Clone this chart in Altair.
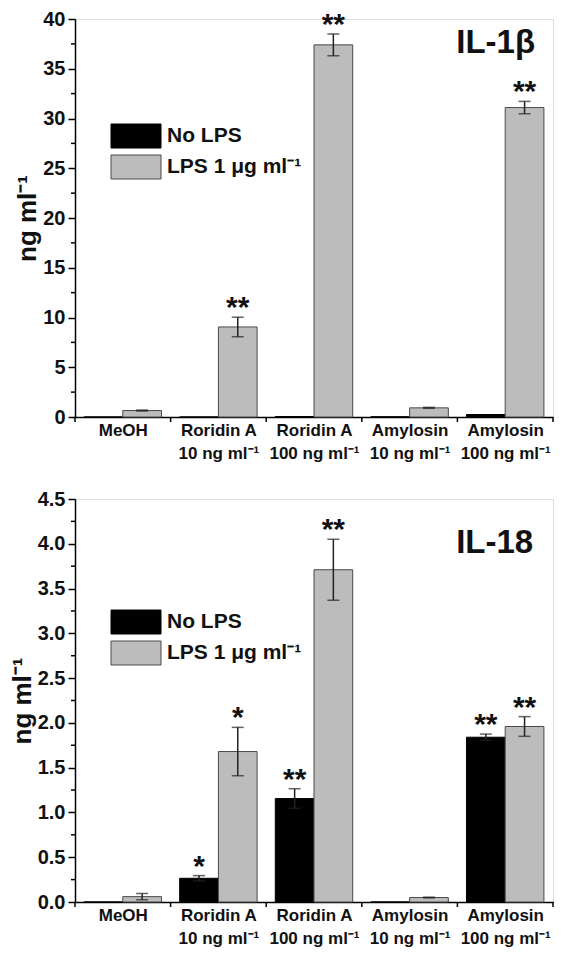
import altair as alt
import pandas as pd

# ---------------- data ----------------
categories = ["MeOH", "Roridin A\n10 ng ml⁻¹", "Roridin A\n100 ng ml⁻¹",
              "Amylosin\n10 ng ml⁻¹", "Amylosin\n100 ng ml⁻¹"]
series = ["No LPS", "LPS 1 μg ml⁻¹"]

il1b_nolps = [0.0, 0.0, 0.05, 0.02, 0.25]
il1b_nolps_err = [0.0, 0.0, 0.0, 0.0, 0.0]
il1b_lps = [0.65, 9.05, 37.4, 0.92, 31.1]
il1b_lps_err = [0.05, 0.98, 1.1, 0.05, 0.62]
il1b_nolps_sig = ["", "", "", "", ""]
il1b_lps_sig = ["", "**", "**", "", "**"]

il18_nolps = [0.0, 0.265, 1.155, 0.0, 1.84]
il18_nolps_err = [0.0, 0.03, 0.11, 0.0, 0.035]
il18_lps = [0.06, 1.68, 3.71, 0.05, 1.96]
il18_lps_err = [0.035, 0.27, 0.34, 0.004, 0.11]
il18_nolps_sig = ["", "*", "**", "", "**"]
il18_lps_sig = ["", "*", "**", "", "**"]

il1b_ticks = [0, 5, 10, 15, 20, 25, 30, 35, 40]
il1b_minor = [2.5, 7.5, 12.5, 17.5, 22.5, 27.5, 32.5, 37.5]
il18_ticks = [0.0, 0.5, 1.0, 1.5, 2.0, 2.5, 3.0, 3.5, 4.0, 4.5]
il18_minor = [0.25, 0.75, 1.25, 1.75, 2.25, 2.75, 3.25, 3.75, 4.25]
group_bounds = [0, 1, 2, 3, 4, 5]

# ---------------- style ----------------
FONT = "Liberation Sans"
BAR_W = 0.405          # bar width as fraction of a group
PANEL_W = 478
BLACK = "#000000"
GRAY = "#bcbcbc"
EDGE = "#4a4a4a"
# legend box 50 x 24 px drawn with symbolSize 625 (unit = 12.5 px)
legend_path = "M-2,-0.96H2V0.96H-2Z"


def build_frame(nolps, nolps_err, nolps_sig, lps, lps_err, lps_sig):
    rows = []
    for i, cat in enumerate(categories):
        for s, vals, errs, sigs, side in [
            (series[0], nolps, nolps_err, nolps_sig, -1),
            (series[1], lps, lps_err, lps_sig, 1),
        ]:
            c = i + 0.5
            x0 = c if side > 0 else c - BAR_W
            x1 = c + BAR_W if side > 0 else c
            rows.append(dict(cat=cat, series=s, x0=x0, x1=x1, xc=(x0 + x1) / 2,
                             value=vals[i], zero=0.0, err=errs[i],
                             lo=vals[i] - errs[i], hi=vals[i] + errs[i],
                             sig=sigs[i]))
    return pd.DataFrame(rows)


label_js = "[" + ",".join("'" + c.replace("\n", "|") + "'" for c in categories) + "]"


def panel(df, ymax, ticks, minor, fmt, title_text, title_x, title_y, legend_y, height):
    xs = alt.Scale(domain=[0, 5], nice=False, zero=False)
    ys = alt.Scale(domain=[0, ymax], nice=False, zero=True)

    x_axis = alt.Axis(
        values=[0.5, 1.5, 2.5, 3.5, 4.5],
        labelExpr=f"split({label_js}[floor(datum.value)], '|')",
        labelAlign="center", ticks=False, labelPadding=5, labelFont=FONT,
        labelFontSize=17, labelFontWeight="bold", labelColor="#111",
        labelLineHeight=23, labelOverlap=False, labelFlush=False, title=None,
        grid=False, domainColor="black", domainWidth=1.5,
    )
    y_axis = alt.Axis(
        values=ticks, format=fmt, title="ng ml⁻¹", tickSize=7, tickWidth=1.5,
        tickColor="black", labelPadding=3, labelFont=FONT, labelFontSize=20,
        labelFontWeight="bold", labelColor="#111", titleFont=FONT,
        titleFontSize=26, titleFontWeight="bold", titleColor="#111",
        titlePadding=2, grid=False, domainColor="black", domainWidth=1.5,
    )

    def X(field):
        return alt.X(field, scale=xs, axis=x_axis, title=None)

    def Y(field):
        return alt.Y(field, scale=ys, axis=y_axis, title="ng ml⁻¹")

    bars = alt.Chart(df).mark_rect(strokeWidth=1).encode(
        x=X("x0:Q"),
        x2="x1:Q",
        y=Y("value:Q"),
        y2="zero:Q",
        color=alt.Color("series:N", scale=alt.Scale(domain=series, range=[BLACK, GRAY]),
                        legend=alt.Legend(
                            orient="none", legendX=48, legendY=legend_y, title=None,
                            symbolType=legend_path, symbolSize=625,
                            symbolStrokeColor=EDGE, symbolStrokeWidth=1,
                            symbolOpacity=1,
                            labelFont=FONT, labelFontSize=21, labelFontWeight="bold",
                            labelColor="#111", labelOffset=18, rowPadding=3, padding=0)),
        stroke=alt.Stroke("series:N", scale=alt.Scale(domain=series, range=[BLACK, EDGE]),
                          legend=None),
    )

    err_df = df[df["err"] > 0]
    rules = alt.Chart(err_df).mark_rule(color="#222", strokeWidth=1.5).encode(
        x=X("xc:Q"),
        y=Y("lo:Q"),
        y2="hi:Q",
    )
    caps = alt.Chart(err_df).transform_fold(["lo", "hi"], as_=["end", "yv"]).mark_tick(
        orient="horizontal", size=12, thickness=1.5, color="#222").encode(
        x=X("xc:Q"),
        y=Y("yv:Q"),
    )
    stars = alt.Chart(df[df["sig"] != ""]).mark_text(
        font=FONT, fontSize=30, fontWeight="bold", color="#111", align="center",
        baseline="alphabetic", dy=0).encode(
        x=X("xc:Q"),
        y=Y("hi:Q"),
        text="sig:N",
    )
    minor_ticks = alt.Chart(pd.DataFrame({"m": minor})).mark_rule(
        color="black", strokeWidth=1.5).encode(
        y=Y("m:Q"),
        x=alt.value(0), x2=alt.value(-4),
    )
    group_ticks = alt.Chart(pd.DataFrame({"b": group_bounds})).mark_rule(
        color="black", strokeWidth=1.5).encode(
        x=X("b:Q"),
        y=alt.value(height), y2=alt.value(height + 5),
    )
    title = alt.Chart(pd.DataFrame({"t": [title_text], "tx": [title_x], "ty": [title_y]})).mark_text(
        font=FONT, fontSize=33, fontWeight="bold", color="#111", align="center",
        baseline="alphabetic").encode(
        x=X("tx:Q"),
        y=Y("ty:Q"),
        text="t:N",
    )
    return alt.layer(bars, rules, caps, stars, minor_ticks, group_ticks, title).properties(
        width=PANEL_W, height=height)


df1 = build_frame(il1b_nolps, il1b_nolps_err, il1b_nolps_sig, il1b_lps, il1b_lps_err, il1b_lps_sig)
df2 = build_frame(il18_nolps, il18_nolps_err, il18_nolps_sig, il18_lps, il18_lps_err, il18_lps_sig)

top = panel(df1, 40, il1b_ticks, il1b_minor, "d", "IL-1β", 4.40, 36.6, 104, 398)
bottom = panel(df2, 4.5, il18_ticks, il18_minor, ".1f", "IL-18", 4.39, 3.9, 110, 403)

chart = alt.vconcat(top, bottom, spacing=26).resolve_scale(
    color="independent", stroke="independent", x="independent", y="independent"
).resolve_legend(color="independent").properties(
    padding={"left": 0, "top": 0, "right": 0, "bottom": 0}
).configure_view(strokeWidth=0).configure(font=FONT)

chart.save("out.html", embed_options={"renderer": "svg", "actions": False})
